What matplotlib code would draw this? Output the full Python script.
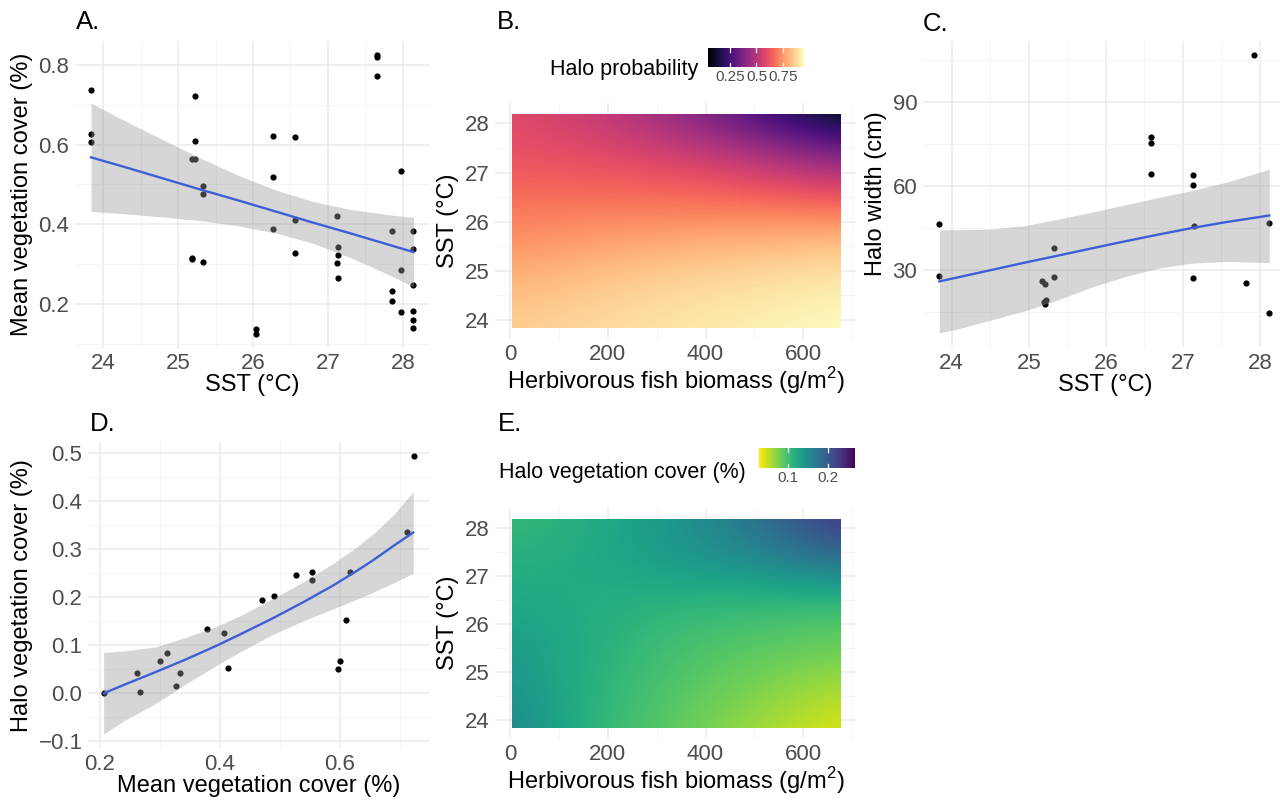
import numpy as np
import matplotlib
matplotlib.use("Agg")
import matplotlib.pyplot as plt
from matplotlib.colors import Normalize
from matplotlib.cm import ScalarMappable
from matplotlib.patches import Rectangle
from matplotlib.ticker import FixedLocator

plt.rcParams['font.family'] = ['Liberation Sans', 'DejaVu Sans']
plt.rcParams['mathtext.fontset'] = 'custom'
plt.rcParams['mathtext.rm'] = 'Liberation Sans'

W, H = 1280, 800

# --- A. mean vegetation cover vs SST ---
sst_a = [23.84, 23.84, 23.84, 25.23, 25.23, 25.18, 25.23, 25.33, 25.33, 25.18,
         25.18, 25.33, 26.04, 26.04, 26.27, 26.27, 26.27, 26.56, 26.56, 26.56,
         27.12, 27.14, 27.14, 27.12, 27.14, 27.66, 27.66, 27.66, 27.86, 27.86,
         27.86, 27.97, 27.97, 27.97, 28.14, 28.14, 28.14, 28.14, 28.14, 28.14]
veg_a = [0.736, 0.627, 0.607, 0.723, 0.609, 0.563, 0.563, 0.497, 0.476, 0.316,
         0.313, 0.306, 0.137, 0.123, 0.622, 0.518, 0.388, 0.620, 0.411, 0.328,
         0.420, 0.342, 0.322, 0.303, 0.264, 0.825, 0.819, 0.773, 0.382, 0.232,
         0.207, 0.534, 0.284, 0.180, 0.382, 0.338, 0.248, 0.182, 0.159, 0.138]
fit_a_x = [23.84, 24.3, 24.8, 25.3, 25.8, 26.3, 26.8, 27.3, 27.8, 28.14]
fit_a_y = [0.568, 0.543, 0.515, 0.487, 0.460, 0.432, 0.404, 0.377, 0.349, 0.330]
fit_a_lo = [0.432, 0.426, 0.418, 0.409, 0.396, 0.378, 0.352, 0.316, 0.274, 0.243]
fit_a_hi = [0.704, 0.659, 0.612, 0.566, 0.523, 0.486, 0.457, 0.437, 0.424, 0.417]

# --- C. halo width vs SST ---
sst_c = [23.84, 23.84, 25.17, 25.21, 25.20, 25.22, 25.21, 25.33, 25.33, 26.58,
         26.58, 26.58, 27.13, 27.13, 27.14, 27.13, 27.82, 27.92, 28.12, 28.12]
width_c = [46.3, 27.8, 25.9, 25.0, 18.4, 19.3, 17.9, 37.8, 27.6, 77.5,
           75.2, 64.2, 63.8, 60.1, 45.8, 27.1, 25.4, 106.6, 46.8, 14.6]
fit_c_x = [23.84, 24.09, 24.52, 24.95, 25.38, 25.82, 26.25, 26.68, 27.11,
           27.55, 28.12]
fit_c_y = [25.9, 27.4, 30.0, 32.6, 35.1, 37.7, 40.2, 42.6, 44.9, 47.0, 49.4]
fit_c_lo = [7.5, 9.0, 12.2, 15.4, 19.3, 23.9, 27.6, 30.6, 32.4, 33.0, 32.6]
fit_c_hi = [44.3, 44.3, 44.6, 45.8, 48.1, 50.6, 53.2, 55.8, 58.3, 61.2, 65.9]

# --- D. halo vegetation cover vs mean vegetation cover ---
mean_d = [0.206, 0.262, 0.267, 0.300, 0.312, 0.326, 0.334, 0.378, 0.406, 0.414,
          0.470, 0.490, 0.526, 0.553, 0.554, 0.600, 0.597, 0.610, 0.616, 0.711,
          0.724]
halo_d = [0.000, 0.042, 0.003, 0.067, 0.083, 0.016, 0.042, 0.135, 0.126, 0.053,
          0.195, 0.203, 0.247, 0.253, 0.236, 0.068, 0.051, 0.152, 0.253, 0.337,
          0.494]
fit_d_x = [0.206, 0.239, 0.294, 0.344, 0.394, 0.439, 0.489, 0.539, 0.589,
           0.628, 0.656, 0.689, 0.722]
fit_d_y = [0.000, 0.017, 0.045, 0.071, 0.099, 0.126, 0.157, 0.190, 0.225,
           0.255, 0.278, 0.307, 0.335]
fit_d_lo = [-0.085, -0.058, -0.020, 0.020, 0.058, 0.090, 0.123, 0.151, 0.176,
            0.196, 0.211, 0.230, 0.250]
fit_d_hi = [0.085, 0.088, 0.097, 0.117, 0.139, 0.165, 0.198, 0.232, 0.271,
            0.305, 0.333, 0.372, 0.420]

# --- B / E. model surfaces over biomass x SST ---
biomass = [3.5, 171.4, 339.3, 507.1, 675]
sst_grid = [23.84, 24.71, 25.58, 26.46, 27.33, 28.2]
halo_prob = [[0.858, 0.880, 0.900, 0.925, 0.948],
             [0.812, 0.848, 0.876, 0.894, 0.916],
             [0.740, 0.770, 0.795, 0.815, 0.839],
             [0.677, 0.680, 0.675, 0.665, 0.640],
             [0.613, 0.595, 0.565, 0.500, 0.387],
             [0.586, 0.530, 0.420, 0.242, 0.043]]
halo_veg = [[0.160, 0.110, 0.086, 0.062, 0.038],
            [0.146, 0.112, 0.093, 0.076, 0.059],
            [0.138, 0.119, 0.098, 0.090, 0.083],
            [0.126, 0.119, 0.112, 0.107, 0.102],
            [0.117, 0.124, 0.138, 0.153, 0.182],
            [0.105, 0.119, 0.143, 0.177, 0.237]]
prob_lims = (0.043, 0.948)
veg_lims = (0.028, 0.268)
prob_ticks = [0.25, 0.5, 0.75]
prob_labels = ['0.25', '0.5', '0.75']
veg_ticks = [0.1, 0.2]
veg_labels = ['0.1', '0.2']

LINE = '#3d5fd6'
TXT = '#4d4d4d'

fig = plt.figure(figsize=(12.8, 8), dpi=100)


def px_axes(l, r, t, b):
    return fig.add_axes([l / W, 1 - b / H, (r - l) / W, (b - t) / H])


def minimal(ax, xmaj, xmin, ymaj, ymin):
    for s in ax.spines.values():
        s.set_visible(False)
    ax.xaxis.set_major_locator(FixedLocator(xmaj))
    ax.xaxis.set_minor_locator(FixedLocator(xmin))
    ax.yaxis.set_major_locator(FixedLocator(ymaj))
    ax.yaxis.set_minor_locator(FixedLocator(ymin))
    ax.grid(which='major', color='#ebebeb', lw=1.1)
    ax.grid(which='minor', color='#f3f3f3', lw=0.6)
    ax.tick_params(which='both', length=0, labelsize=16, labelcolor=TXT, pad=4)
    ax.set_axisbelow(True)


def smooth_panel(ax, x, y, fx, fy, lo, hi):
    ax.scatter(x, y, s=20, color='black', lw=0, zorder=2)
    ax.fill_between(fx, lo, hi, color='#999999', alpha=0.4, lw=0, zorder=3)
    ax.plot(fx, fy, color=LINE, lw=1.7, zorder=4)


# A
ax_a = px_axes(74.9, 429.6, 41.1, 347.6)
smooth_panel(ax_a, sst_a, veg_a, fit_a_x, fit_a_y, fit_a_lo, fit_a_hi)
ax_a.set_xlim(23.625, 28.355)
ax_a.set_ylim(0.09, 0.86)
minimal(ax_a, [24, 25, 26, 27, 28], [23.5, 24.5, 25.5, 26.5, 27.5, 28.5],
        [0.2, 0.4, 0.6, 0.8], [0.1, 0.3, 0.5, 0.7])
ax_a.set_yticklabels(['0.2', '0.4', '0.6', '0.8'])
ax_a.set_xlabel('SST (°C)', fontsize=17, labelpad=0)
ax_a.set_ylabel('Mean vegetation cover (%)', fontsize=17, labelpad=4)

# C
ax_c = px_axes(922.8, 1287.4, 41.1, 347)
smooth_panel(ax_c, sst_c, width_c, fit_c_x, fit_c_y, fit_c_lo, fit_c_hi)
ax_c.set_xlim(23.625, 28.355)
ax_c.set_ylim(2.5, 111.6)
minimal(ax_c, [24, 25, 26, 27, 28], [23.5, 24.5, 25.5, 26.5, 27.5, 28.5],
        [30, 60, 90], [15, 45, 75, 105])
ax_c.set_xlabel('SST (°C)', fontsize=17, labelpad=0)
ax_c.set_ylabel('Halo width (cm)', fontsize=17, labelpad=4)

# D
ax_d = px_axes(88, 430, 442.3, 748)
smooth_panel(ax_d, mean_d, halo_d, fit_d_x, fit_d_y, fit_d_lo, fit_d_hi)
ax_d.set_xlim(0.18, 0.75)
ax_d.set_ylim(-0.114, 0.523)
minimal(ax_d, [0.2, 0.4, 0.6], [0.3, 0.5, 0.7],
        [-0.1, 0.0, 0.1, 0.2, 0.3, 0.4, 0.5],
        [-0.05, 0.05, 0.15, 0.25, 0.35, 0.45])
ax_d.set_xticklabels(['0.2', '0.4', '0.6'])
ax_d.set_yticklabels(['\u22120.1', '0.0', '0.1', '0.2', '0.3', '0.4', '0.5'])
ax_d.set_xlabel('Mean vegetation cover (%)', fontsize=17, labelpad=0)
ax_d.set_ylabel('Halo vegetation cover (%)', fontsize=17, labelpad=4)


def surface_panel(box, z, cmap, lims):
    ax = px_axes(*box)
    dx = (biomass[-1] - biomass[0]) / (len(biomass) - 1)
    dy = (sst_grid[-1] - sst_grid[0]) / (len(sst_grid) - 1)
    im = ax.imshow(np.array(z), origin='lower', aspect='auto', cmap=cmap,
                   vmin=lims[0], vmax=lims[1], interpolation='bicubic',
                   interpolation_stage='data', zorder=1,
                   extent=[biomass[0] - dx / 2, biomass[-1] + dx / 2,
                           sst_grid[0] - dy / 2, sst_grid[-1] + dy / 2])
    # keep the surface inside the sampled range
    im.set_clip_path(Rectangle((biomass[0], sst_grid[0]),
                               biomass[-1] - biomass[0],
                               sst_grid[-1] - sst_grid[0],
                               transform=ax.transData))
    ax.set_xlim(-30.1, 708.6)
    ax.set_ylim(23.62, 28.42)
    minimal(ax, [0, 200, 400, 600], [100, 300, 500, 700],
            [24, 25, 26, 27, 28], [24.5, 25.5, 26.5, 27.5])
    ax.set_xlabel('Herbivorous fish biomass (g/m$^2$)', fontsize=17, labelpad=0)
    ax.set_ylabel('SST (°C)', fontsize=17, labelpad=4)
    return ax


def colour_key(box, cmap, lims, ticks, labels):
    cax = px_axes(*box)
    sm = ScalarMappable(norm=Normalize(*lims), cmap=cmap)
    cb = fig.colorbar(sm, cax=cax, orientation='horizontal', ticks=ticks)
    cb.outline.set_visible(False)
    cb.set_ticklabels(labels)
    cax.tick_params(length=0, labelsize=11, labelcolor=TXT, pad=2)
    for t in ticks:
        cax.plot([t, t], [0, 0.2], color='white', lw=0.9)
        cax.plot([t, t], [0.8, 1], color='white', lw=0.9)
    return cb


# B
surface_panel((495.3, 856.4, 102.7, 338.7), halo_prob, 'magma', prob_lims)
colour_key((708, 804, 48, 67), 'magma', prob_lims, prob_ticks, prob_labels)
fig.text(550 / W, 1 - 75 / H, 'Halo probability', fontsize=15.5, va='baseline')

# E
surface_panel((495.3, 856.4, 508.2, 738.1), halo_veg, 'viridis_r', veg_lims)
colour_key((759, 855, 448, 468), 'viridis_r', veg_lims, veg_ticks, veg_labels)
fig.text(499 / W, 1 - 478 / H, 'Halo vegetation cover (%)', fontsize=15.5,
         va='baseline')

# panel tags
for tag, x, y in [('A.', 75.7, 29), ('B.', 497, 29), ('C.', 923, 31),
                  ('D.', 90, 431), ('E.', 498, 431)]:
    fig.text(x / W, 1 - y / H, tag, fontsize=18.5, va='baseline')

fig.savefig('out.png', dpi=100, facecolor='white')
